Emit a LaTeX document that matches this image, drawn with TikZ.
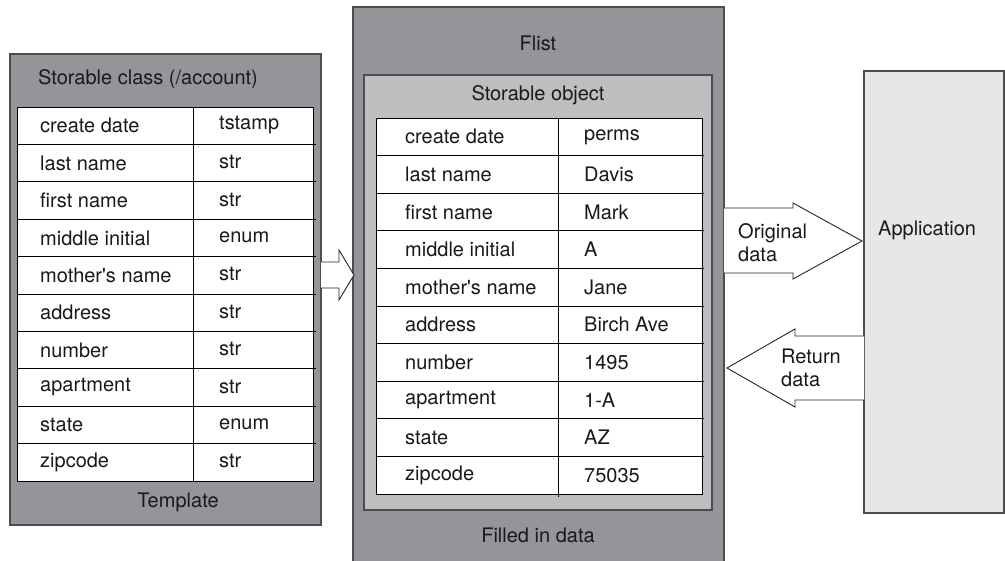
\documentclass[tikz,border=0pt]{standalone}
\usepackage{fontspec}
\setmainfont{TeX Gyre Heros}
\usepackage{tikz}

\definecolor{panelgray}{HTML}{939598}
\definecolor{objgray}{HTML}{BCBEC0}
\definecolor{appgray}{HTML}{E6E7E8}
\definecolor{edgegray}{HTML}{4D4D4F}

\tikzset{
  panel/.style={draw=edgegray, line width=1.6pt},
  cell/.style={anchor=west, inner sep=0pt},
  blockarrow/.style={draw=black!85, line width=0.9pt, fill=white, line join=miter}
}

\begin{document}
\begin{tikzpicture}[x=1pt, y=-1pt,
    every node/.style={font=\fontsize{20}{23}\selectfont, text=black!90}]
    \useasboundingbox (0,0) rectangle (1005,561);

    % Template panel
    \draw[panel, fill=panelgray] (10,54) rectangle (321,525);
    \node[cell] (tmpltitle) at (38,79) {Storable class (/account)};
    \node (tmpllabel) at (178,502) {Template};

    % Template table
    \draw[fill=white, line width=0.8pt] (17,107) rectangle (313,481);
    \draw[line width=0.8pt] (193,107) -- (193,481);
    \foreach \i in {1,...,9}
        \draw[line width=0.8pt] (17,107+37.4*\i) -- (316,107+37.4*\i);
    \foreach \name/\type [count=\i from 0] in {create date/tstamp, last name/str,
        first name/str, middle initial/enum, mother\textquotesingle s name/str, address/str,
        number/str, apartment/str, state/enum, zipcode/str}
    {
        \node[cell] (tl\i) at (40,125.7+37.4*\i) {\name};
        \node[cell] (tr\i) at (219,124.7+37.4*\i) {\type};
    }

    % Flist panel
    \draw[panel, fill=panelgray] (353,7) rectangle (724,566);
    \node (flisttitle) at (538,43) {Flist};
    \node (flistlabel) at (538,535) {Filled in data};

    % Storable object
    \draw[panel, fill=objgray] (364,75) rectangle (712,510);
    \node (objtitle) at (538,95) {Storable object};

    % Object table
    \draw[fill=white, line width=0.8pt] (376,118) rectangle (702,494);
    \draw[line width=0.8pt] (558,118) -- (558,497);
    \foreach \i in {1,...,9}
        \draw[line width=0.8pt] (376,118+37.6*\i) -- (704,118+37.6*\i);
    \foreach \name/\val [count=\i from 0] in {create date/perms, last name/Davis,
        first name/Mark, middle initial/A, mother\textquotesingle s name/Jane, address/Birch Ave,
        number/1495, apartment/1-A, state/AZ, zipcode/75035}
    {
        \node[cell] (ol\i) at (405,136.8+37.6*\i) {\name};
        \node[cell] (or\i) at (584,136.8+37.6*\i) {\val};
    }

    % Application
    \draw[panel, fill=appgray] (864,71) rectangle (1004,513);
    \node[cell] (app) at (878,230) {Application};

    % Template to Flist
    \draw[blockarrow] (321,262) -- (339,262) -- (339,250) -- (354,275)
        -- (339,300) -- (339,288) -- (321,288);

    % Original data
    \draw[blockarrow] (724,208) -- (793,208) -- (793,203) -- (862,241)
        -- (793,279) -- (793,273) -- (724,273);
    \node[cell, align=left] (orig) at (738,243) {Original\\data};

    % Return data
    \draw[blockarrow] (864,336) -- (795,336) -- (795,329) -- (727,368)
        -- (795,407) -- (795,400) -- (864,400);
    \node[cell, align=left] (ret) at (781,368) {Return\\data};
\end{tikzpicture}
\end{document}
